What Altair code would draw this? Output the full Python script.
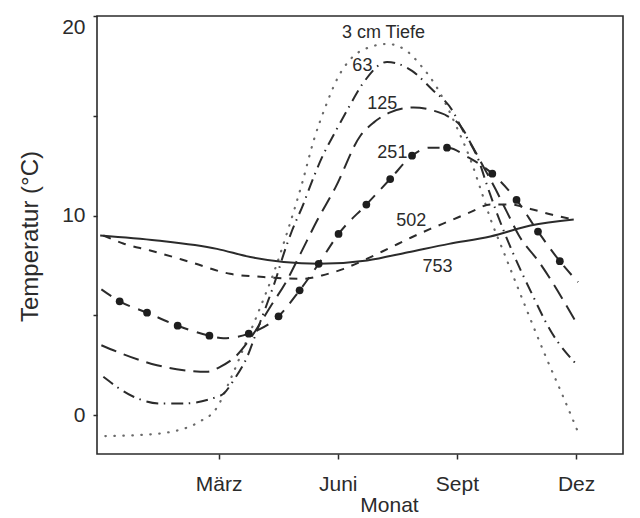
import altair as alt
import pandas as pd

# ---- data (month index: März=3, Juni=6, Sept=9, Dez=12) ----
m_3cm = [0.15, 1.0, 1.9, 2.5, 2.95, 3.3, 3.7, 4.05, 4.4, 4.75, 5.1, 5.4, 5.7, 6.0, 6.35, 6.75,
         7.25, 7.7, 8.1, 8.5, 9.0, 9.35, 9.6, 9.85, 10.15, 10.65, 11.2, 11.7, 12.1]
t_3cm = [-1.05, -1.0, -0.8, -0.35, 0.35, 1.8, 3.7, 5.4, 7.2, 9.3, 11.6, 13.8, 15.5, 16.9, 17.9, 18.4,
         18.6, 18.3, 17.5, 16.4, 14.4, 12.75, 11.3, 9.8, 8.3, 5.8, 3.1, 0.8, -1.1]

m_63 = [0.1, 0.86, 1.53, 2.12, 2.83, 3.13, 3.38, 3.72, 3.97, 4.22, 4.43, 4.64, 4.85, 5.14, 5.31,
        5.6, 5.94, 6.27, 6.65, 7.24, 7.87, 8.37, 8.88, 9.13, 9.55, 9.76, 10.01, 10.35, 10.87, 11.38, 12.0]
t_63 = [1.92, 0.92, 0.58, 0.58, 0.83, 1.08, 1.75, 2.92, 4.25, 5.58, 6.75, 8.08, 9.25, 10.6, 11.5,
        12.9, 14.2, 15.4, 16.67, 17.7, 17.25, 16.33, 15.28, 14.33, 12.75, 11.5, 10.1, 8.4, 6.15, 4.15, 2.56]

m_125 = [0.05, 0.78, 1.45, 2.12, 2.71, 3.04, 3.46, 3.88, 4.3, 4.72, 5.06, 5.48, 5.94, 6.57, 6.91,
         7.32, 7.91, 8.42, 8.75, 9.09, 9.38, 9.68, 9.97, 10.26, 10.56, 11.07, 12.0]
t_125 = [3.5, 2.92, 2.5, 2.25, 2.17, 2.42, 3.0, 4.08, 5.42, 6.75, 8.08, 9.75, 11.4, 14.0, 14.67,
         15.17, 15.42, 15.25, 15.0, 14.5, 13.5, 12.4, 11.33, 10.17, 9.0, 7.66, 4.65]

m_251 = [0.05, 0.51, 1.2, 1.97, 2.77, 3.12, 3.76, 4.51, 5.04, 5.52, 6.02, 6.72, 7.32, 7.87, 8.3,
         8.75, 9.3, 9.89, 10.5, 11.04, 11.59, 12.05]
t_251 = [6.3, 5.7, 5.13, 4.48, 3.98, 3.85, 4.08, 4.95, 6.25, 7.58, 9.08, 10.55, 11.83, 13.0, 13.4,
         13.4, 12.9, 12.1, 10.78, 9.2, 7.71, 6.66]
m_251_dots = [0.51, 1.2, 1.97, 2.77, 3.76, 4.51, 5.04, 5.52, 6.02, 6.72, 7.32, 7.87, 8.75, 9.89,
              10.5, 11.04, 11.59]
t_251_dots = [5.7, 5.13, 4.48, 3.98, 4.08, 4.95, 6.25, 7.58, 9.08, 10.55, 11.83, 13.0, 13.4, 12.1,
              10.78, 9.2, 7.71]

m_502 = [0.1, 0.6, 1.28, 2.29, 3.29, 4.13, 4.7, 5.14, 5.6, 6.15, 6.7, 7.26, 7.85, 8.33, 8.84, 9.34,
         9.84, 10.35, 10.85, 11.4, 11.94]
t_502 = [9.0, 8.6, 8.25, 7.67, 7.08, 6.92, 6.85, 6.83, 7.0, 7.33, 7.8, 8.33, 8.9, 9.33, 9.75, 10.17,
         10.55, 10.55, 10.33, 10.04, 9.8]

m_753 = [0.02, 1.45, 2.96, 3.8, 4.64, 5.52, 6.74, 7.77, 8.8, 9.84, 10.85, 11.94]
t_753 = [9.0, 8.75, 8.33, 7.92, 7.67, 7.58, 7.75, 8.16, 8.58, 8.95, 9.5, 9.8]

label_text = ["3 cm Tiefe", "63", "125", "251", "502", "753"]
label_m = [7.15, 6.62, 7.12, 7.375, 7.85, 8.51]
label_t = [19.15, 17.5, 15.6, 13.15, 9.75, 7.4]

tick_months = [3, 6, 9, 12]
tick_names = ["März", "Juni", "Sept", "Dez"]

# ---- chart ----
FONT = "Liberation Sans"
INK = "#2b2b2b"

xscale = alt.Scale(domain=[-0.06, 13.18], nice=False, zero=False)
yscale = alt.Scale(domain=[-1.95, 20], nice=False, zero=False)

label_expr = " : ".join(
    f"datum.value == {v} ? '{n}'" for v, n in zip(tick_months[:-1], tick_names[:-1])
) + f" : '{tick_names[-1]}'"

xaxis = alt.Axis(values=tick_months, labelExpr=label_expr, title="Monat", grid=False,
                 domain=False, tickSize=5, tickWidth=1.5, tickColor=INK, labelPadding=14,
                 labelFontSize=21, labelFont=FONT, labelColor=INK, labelFlush=False,
                 titleFontSize=21, titleFont=FONT, titleColor=INK, titleFontWeight="normal",
                 titleX=292, titleY=57, titleBaseline="alphabetic")
yaxis = alt.Axis(values=[0, 5, 10, 15, 20],
                 labelExpr="datum.value % 10 == 0 ? datum.label : ''",
                 title="Temperatur (°C)", grid=False, domain=False, tickSize=4, tickWidth=1.5,
                 tickColor=INK, labelPadding=8, labelFontSize=21, labelFont=FONT,
                 labelColor=INK, labelFlush=True, labelFlushOffset=0,
                 titleFontSize=24, titleFont=FONT, titleColor=INK, titleFontWeight="normal",
                 titleX=-67, titleY=220, titleBaseline="middle", titleAngle=270)


def line(ms, ts, dash, width=2.0, color=INK, cap="butt"):
    df = pd.DataFrame({"Monat": ms, "Temperatur": ts})
    props = dict(interpolate="monotone", strokeWidth=width, color=color, strokeCap=cap)
    if dash:
        props["strokeDash"] = dash
    return alt.Chart(df).mark_line(**props).encode(
        x=alt.X("Monat:Q", scale=xscale, axis=xaxis),
        y=alt.Y("Temperatur:Q", scale=yscale, axis=yaxis),
    )


layers = [
    line(m_3cm, t_3cm, [0.5, 8.5], width=2.2, color="#6a6a6a", cap="round"),
    line(m_63, t_63, [12, 5.5, 1.5, 6]),
    line(m_125, t_125, [16, 8]),
    line(m_251, t_251, [12, 9]),
    line(m_502, t_502, [8, 8]),
    line(m_753, t_753, None, width=2.0),
]

dots = alt.Chart(pd.DataFrame({"Monat": m_251_dots, "Temperatur": t_251_dots})).mark_point(
    filled=True, size=60, color="#1e1e1e", opacity=1
).encode(
    x=alt.X("Monat:Q", scale=xscale, axis=xaxis),
    y=alt.Y("Temperatur:Q", scale=yscale, axis=yaxis),
)

labels = alt.Chart(pd.DataFrame({"Monat": label_m, "Temperatur": label_t, "txt": label_text})).mark_text(
    font=FONT, fontSize=18, color=INK, align="center", baseline="middle"
).encode(
    x=alt.X("Monat:Q", scale=xscale, axis=xaxis),
    y=alt.Y("Temperatur:Q", scale=yscale, axis=yaxis),
    text="txt:N",
)

chart = alt.layer(*layers, dots, labels).properties(
    width=526,
    height=438,
    autosize=alt.AutoSizeParams(type="none"),
    padding={"left": 89, "top": 8, "right": 9, "bottom": 64},
    background="white",
).configure_view(stroke=INK, strokeWidth=1.6)

chart.save("out.html", embed_options={"renderer": "svg", "actions": False})
